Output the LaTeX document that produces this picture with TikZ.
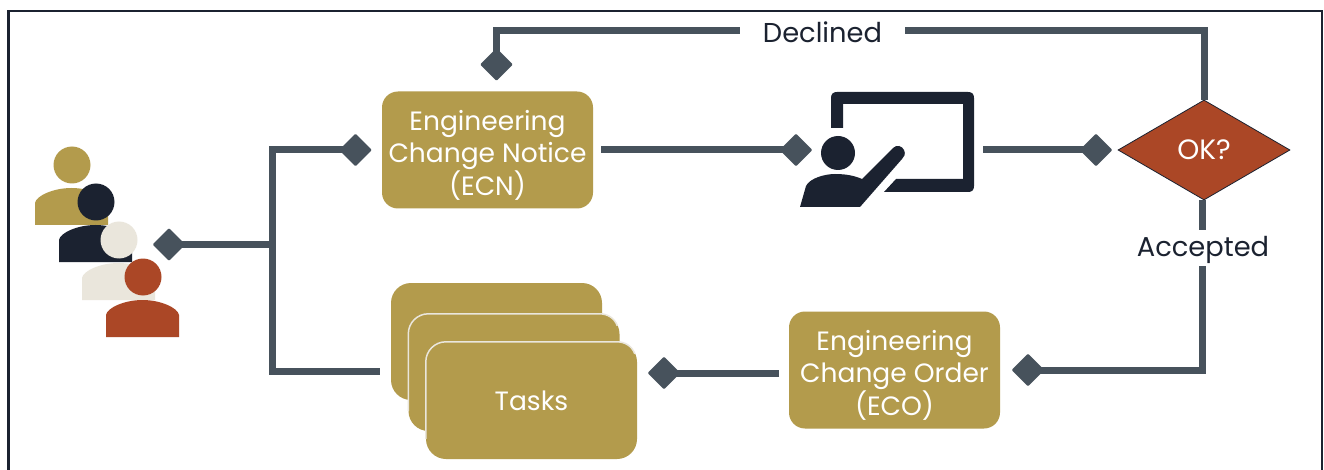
\documentclass[tikz,border=0pt]{standalone}
\usepackage{fontspec}
\setmainfont{Poppins}
\usetikzlibrary{shapes.geometric,calc}
\definecolor{gold}{HTML}{B39B4C}
\definecolor{slate}{HTML}{47525C}
\definecolor{ink}{HTML}{1B2230}
\definecolor{rust}{HTML}{AB4726}
\definecolor{cream}{HTML}{EAE6DC}
\tikzset{
  x=1pt,y=-1pt,
  link/.style={draw=slate,line width=7pt,line join=miter},
  pin/.style={diamond,fill=slate,minimum width=33pt,minimum height=33pt,inner sep=0pt,rounded corners=1pt},
  goldbox/.style={rectangle,fill=gold,rounded corners=16pt,minimum width=211pt,minimum height=117pt,inner sep=0pt},
  boxtext/.style={text=white,align=center,font=\fontsize{26.5}{32.5}\selectfont,inner sep=0pt},
  lbl/.style={text=ink,font=\fontsize{27.3}{32}\selectfont,inner sep=0pt},
  taskedge/.style={draw=cream,line width=1.5pt},
}
\newcommand{\person}[3]{% x-left, y-top of body, colour
  \fill[#3] (#1,#2+37) -- (#1,#2+15) .. controls (#1+1,#2+8) and (#1+18,#2) .. (#1+36.5,#2)
     .. controls (#1+55,#2) and (#1+72,#2+8) .. (#1+73,#2+15) -- (#1+73,#2+37) -- cycle;
  \fill[#3] (#1+37,#2-23) circle[radius=18.5];
}
\newcommand{\taskoutline}[1]{%
  \draw[taskedge,shift={(#1.north west)}] (0,97) -- (0,20) .. controls (0,9) and (9,0) .. (20,0) -- (191,0) .. controls (199,0) and (206,4) .. (209,12);
}
\begin{document}
\begin{tikzpicture}
\useasboundingbox (0,0) rectangle (1324,470);
\fill[white] (0,0) rectangle (1324,470);
\draw[ink,line width=2.5pt] (8.5,480) -- (8.5,11) -- (1322,11) -- (1322,480);
% people
\person{35}{188}{gold}
\person{59}{225}{ink}
\person{82}{263}{cream}
\person{106}{300}{rust}
% boxes
\node[goldbox] (ecn) at (487.5,150) {};
\node[boxtext,yshift=-5pt] at (ecn.center) {Engineering\\Change Notice\\(ECN)};
\node[goldbox] (eco) at (894.5,370) {};
\node[boxtext,yshift=-5pt] at (eco.center) {Engineering\\Change Order\\(ECO)};
\node[goldbox,rounded corners=20pt] (taskA) at (496.5,341.5) {};
\node[goldbox,rounded corners=20pt] (taskB) at (514,372.5) {};
\taskoutline{taskB}
\node[goldbox,rounded corners=20pt] (taskC) at (531.5,400.5) {};
\taskoutline{taskC}
\node[boxtext] at (taskC.center) {Tasks};
% decision
\node[diamond,draw=ink,line width=.8pt,fill=rust,minimum width=172pt,minimum height=100pt,inner sep=0pt,aspect=1.72,text=white,font=\fontsize{28}{32}\selectfont] (ok) at (1204,150) {OK?};
% presenter
\fill[ink] (831,128) -- (831,98) .. controls (831,94) and (833,92) .. (837,92) -- (968,92) .. controls (972,92) and (974,94) .. (974,98)
  -- (974,186) .. controls (974,190) and (972,192) .. (968,192) -- (884,192) -- (896,179) -- (963,179) -- (963,104) -- (843,104) -- (843,128) -- cycle;
\fill[ink] (838,153) circle[radius=17];
\fill[ink] (800,207) -- (806,186) .. controls (810,178) and (825,174) .. (835,174) .. controls (847,174) and (855,176) .. (862,179) -- (893,148)
  .. controls (897,144) and (902,146) .. (904,150) .. controls (906,154) and (904,157) .. (902,159) -- (860,207) -- cycle;
% pins
\node[pin] (pinPeople) at (169,244.5) {};
\node[pin] (pinEcn) at (355.5,150) {};
\node[pin] (pinBoard) at (796,150) {};
\node[pin] (pinOk) at (1096,150) {};
\node[pin] (pinDeclined) at (496.5,64.5) {};
\node[pin] (pinEco) at (1028,370) {};
\node[pin] (pinTasks) at (664,373) {};
% labels
\node[lbl] (declined) at (822.5,32) {Declined};
\node[lbl] (accepted) at (1203,250) {Accepted};
% free ends
\coordinate (trunk) at (272,244.5);
\coordinate (trunkTop) at (272,150);
\coordinate (trunkBot) at (272,371);
\coordinate (tasksIn) at (380,371);
\coordinate (ecnOut) at (601,150);
\coordinate (boardOut) at (983,150);
\coordinate (decL) at (740,31);
\coordinate (decR) at (905,31);
\coordinate (corner) at (1204,31);
\coordinate (acA) at (1202,230);
\coordinate (acB) at (1202,266);
\coordinate (ecoOut) at (779,373);
% connectors
\draw[link] (pinPeople.center) -- (trunk);
\draw[link] (pinEcn.center) -- (trunkTop) -- (trunkBot) -- (tasksIn);
\draw[link] (ecnOut) -- (pinBoard.center);
\draw[link] (boardOut) -- (pinOk.center);
\draw[link] (pinDeclined.center) -- (pinDeclined.center |- decL) -- (decL);
\draw[link] (decR) -- (corner) -- (corner |- ok.north);
\draw[link] (acA) -- (acA |- ok.south);
\draw[link] (acB) -- (acB |- pinEco.center) -- (pinEco.center);
\draw[link] (ecoOut) -- (pinTasks.center);
\end{tikzpicture}
\end{document}
